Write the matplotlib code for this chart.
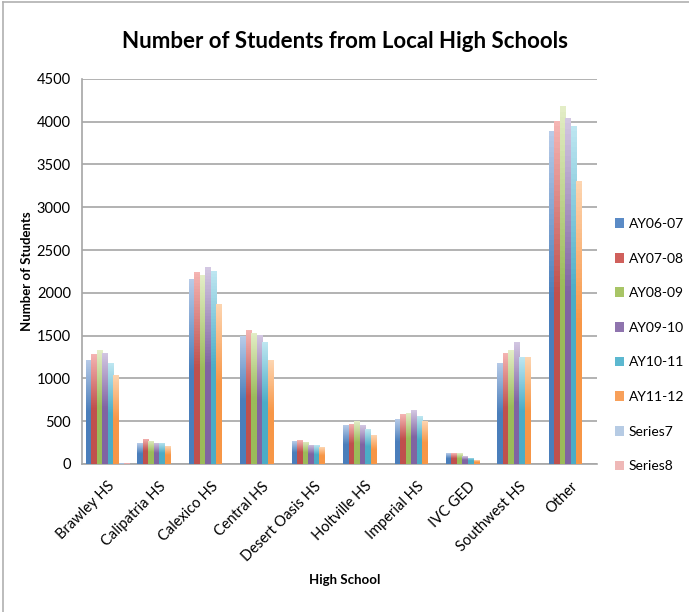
import numpy as np
import matplotlib
matplotlib.use("Agg")
import matplotlib.pyplot as plt
from matplotlib.colors import LinearSegmentedColormap
from matplotlib.patches import Patch
from matplotlib.lines import Line2D

schools = ['Brawley HS', 'Calipatria HS', 'Calexico HS', 'Central HS',
           'Desert Oasis HS', 'Holtville HS', 'Imperial HS', 'IVC GED',
           'Southwest HS', 'Other']

ay06_07 = [1220, 245, 2165, 1490, 265, 455, 520, 125, 1185, 3890]
ay07_08 = [1290, 295, 2245, 1570, 278, 470, 580, 122, 1300, 4005]
ay08_09 = [1330, 270, 2205, 1535, 260, 500, 595, 122, 1330, 4180]
ay09_10 = [1300, 250, 2300, 1510, 225, 455, 630, 92, 1430, 4040]
ay10_11 = [1175, 250, 2255, 1420, 220, 405, 560, 72, 1250, 3945]
ay11_12 = [1045, 210, 1875, 1215, 195, 335, 500, 45, 1250, 3310]
series7 = [12, 0, 0, 0, 0, 0, 0, 0, 0, 0]
series8 = [12, 0, 0, 0, 0, 0, 0, 0, 0, 0]

series_names = ['AY06-07', 'AY07-08', 'AY08-09', 'AY09-10', 'AY10-11',
                'AY11-12', 'Series7', 'Series8']
series_vals = [ay06_07, ay07_08, ay08_09, ay09_10, ay10_11, ay11_12,
               series7, series8]

# (top colour, bottom colour) - excel style gradient
grad_colors = [('#b7cbe8', '#4a7ebb'),
               ('#f5b5b3', '#c0504d'),
               ('#e3edc6', '#9bbb59'),
               ('#d3c7e2', '#8064a2'),
               ('#bde6f1', '#4bacc6'),
               ('#fdd5b1', '#f79646'),
               ('#d6e2f2', '#a7c0de'),
               ('#f8d6d5', '#e6a9a8')]
legend_colors = ['#5b8bc6', '#d0605c', '#a8c566', '#8f74ae', '#5cb8d0',
                 '#f8a05a', '#b6cbe4', '#efb8b7']

fig = plt.figure(figsize=(6.89, 6.12), dpi=100)
ax = fig.add_axes([0.119, 0.242, 0.747, 0.629])

x = np.arange(len(schools))
n = len(series_vals)
w = 0.107
grad = np.linspace(1, 0, 64).reshape(-1, 1)

for i, (vals, (ctop, cbot)) in enumerate(zip(series_vals, grad_colors)):
    pos = x - n * w / 2 + (i + 0.5) * w
    bars = ax.bar(pos, vals, width=w, facecolor='none', edgecolor='none', zorder=3)
    cmap = LinearSegmentedColormap.from_list('g%d' % i, [cbot, cbot, ctop])
    for b in bars:
        h = b.get_height()
        if h <= 0:
            continue
        x0 = b.get_x()
        im = ax.imshow(grad, cmap=cmap, aspect='auto', vmin=0, vmax=1,
                       extent=(x0, x0 + b.get_width(), 0, h), zorder=3)
        im.set_clip_path(b)

ax.set_xlim(-0.5, len(schools) - 0.5)
ax.set_ylim(0, 4500)
ax.set_yticks(np.arange(0, 4501, 500))
ax.yaxis.grid(True, color='#a6a6a6', linewidth=1.2, zorder=0)
ax.set_axisbelow(True)
for s in ['top', 'right']:
    ax.spines[s].set_visible(False)
for s in ['left', 'bottom']:
    ax.spines[s].set_color('#a6a6a6')
    ax.spines[s].set_linewidth(1.2)

font = 'Lato'
ax.set_xticks(x)
ax.set_xticklabels(schools, rotation=45, ha='right', rotation_mode='anchor',
                   fontsize=10.5, family=font)
ax.tick_params(axis='x', length=0, pad=11)
ax.tick_params(axis='y', length=0, pad=8, labelsize=10.5)
for t in ax.get_yticklabels():
    t.set_family(font)

ax.set_ylabel('Number of Students', fontsize=9.5, fontweight='bold',
              family=font, labelpad=3)
fig.text(0.5, 0.052, 'High School', fontsize=9.5, fontweight='bold',
         family=font, ha='center', va='center')
fig.text(0.5, 0.932, 'Number of Students from Local High Schools',
         fontsize=16, fontweight='bold', family=font, ha='center', va='center')

handles = [Patch(facecolor=c, edgecolor='none') for c in legend_colors]
fig.legend(handles, series_names, loc='center left',
           bbox_to_anchor=(0.892, 0.436), frameon=False,
           prop={'family': font, 'size': 10},
           handlelength=0.7, handleheight=0.7, handletextpad=0.3,
           labelspacing=1.63, borderaxespad=0, borderpad=0)

# outer chart frame (only top and left edges are visible in the crop)
fig.add_artist(Line2D([0.005, 0.005], [0.0, 0.996], color='#b0b0b0',
                      linewidth=1.2, transform=fig.transFigure))
fig.add_artist(Line2D([0.005, 1.0], [0.996, 0.996], color='#b0b0b0',
                      linewidth=1.2, transform=fig.transFigure))

fig.savefig('out.png', dpi=100, facecolor='white')
